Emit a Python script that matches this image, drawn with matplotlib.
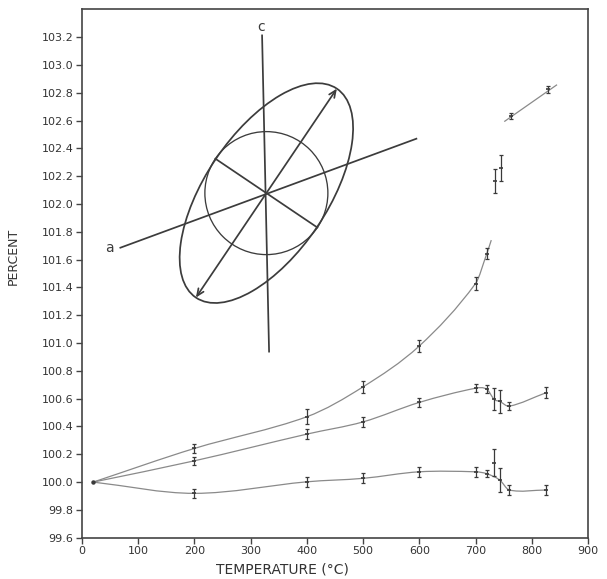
import numpy as np
import matplotlib
matplotlib.use("Agg")
import matplotlib.pyplot as plt
from matplotlib.path import Path
from matplotlib.patches import PathPatch, Ellipse, Circle, FancyArrowPatch
from matplotlib.transforms import Affine2D, ScaledTranslation

# ---------------------------------------------------------------- data
# Temperature (°C) and percent of original length; yerr = half bar height
upper_t = [20, 200, 400, 500, 600, 700, 720]
upper_v = [100.0, 100.242, 100.47, 100.685, 100.979, 101.428, 101.643]
upper_e = [0.0, 0.032, 0.055, 0.045, 0.040, 0.045, 0.040]
upper_end_t = [728]          # where the drawn curve stops
upper_end_v = [101.74]

middle_t = [20, 200, 400, 500, 600, 700, 720, 733, 743, 760, 825]
middle_v = [100.0, 100.153, 100.345, 100.433, 100.573, 100.675, 100.668,
            100.595, 100.58, 100.546, 100.642]
middle_e = [0.0, 0.030, 0.038, 0.036, 0.034, 0.030, 0.030, 0.078, 0.082,
            0.030, 0.040]

lower_t = [20, 200, 400, 500, 600, 700, 720, 733, 743, 760, 825]
lower_v = [100.0, 99.919, 100.002, 100.027, 100.074, 100.074, 100.06,
           100.14, 100.015, 99.943, 99.943]
lower_e = [0.0, 0.032, 0.036, 0.036, 0.036, 0.036, 0.024, 0.095, 0.085,
           0.036, 0.036]
lower_on_curve = [True, True, True, True, True, True, True, False, True,
                  True, True]

high_t = [735, 745]
high_v = [102.165, 102.26]
high_e = [0.085, 0.095]

rise_t = [763, 829]
rise_v = [102.632, 102.825]
rise_e = [0.020, 0.025]
rise_line_t = [752, 844]
rise_line_v = [102.595, 102.855]

x_ticks = [0, 100, 200, 300, 400, 500, 600, 700, 800, 900]
y_ticks = [99.6, 99.8, 100.0, 100.2, 100.4, 100.6, 100.8, 101.0, 101.2,
           101.4, 101.6, 101.8, 102.0, 102.2, 102.4, 102.6, 102.8, 103.0,
           103.2]

# ---------------------------------------------------------------- helpers
def smooth_path(xs, ys):
    """Cubic Bezier path through the knots, single-valued in x."""
    xs = np.asarray(xs, float)
    ys = np.asarray(ys, float)
    n = len(xs)
    m = np.empty(n)
    m[0] = (ys[1] - ys[0]) / (xs[1] - xs[0])
    m[-1] = (ys[-1] - ys[-2]) / (xs[-1] - xs[-2])
    m[1:-1] = (ys[2:] - ys[:-2]) / (xs[2:] - xs[:-2])
    verts = [(xs[0], ys[0])]
    codes = [Path.MOVETO]
    for i in range(n - 1):
        h = xs[i + 1] - xs[i]
        verts += [(xs[i] + h / 3, ys[i] + m[i] * h / 3),
                  (xs[i + 1] - h / 3, ys[i + 1] - m[i + 1] * h / 3),
                  (xs[i + 1], ys[i + 1])]
        codes += [Path.CURVE4] * 3
    return Path(verts, codes)


CURVE = "#8a8a8a"
INK = "#3a3a3a"

fig = plt.figure(figsize=(6.07, 5.79), dpi=100)
ax = fig.add_axes([0.135, 0.0713, 0.8337, 0.9127])
ax.set_xlim(0, 900)
ax.set_ylim(99.6, 103.4)


def draw_curve(xs, ys):
    ax.add_patch(PathPatch(smooth_path(xs, ys), fill=False, ec=CURVE,
                           lw=0.9, zorder=2))


def draw_bars(t, v, e):
    ax.errorbar(t, v, yerr=e, fmt="none", ecolor=INK, elinewidth=0.9,
                capsize=1.7, capthick=0.9, zorder=3)
    ax.plot(t, v, ls="none", marker="_", ms=3, mew=1.2, color=INK, zorder=3)


# smooth curves
draw_curve(upper_t + upper_end_t, upper_v + upper_end_v)
draw_curve(middle_t, middle_v)
draw_curve([t for t, k in zip(lower_t, lower_on_curve) if k],
           [v for v, k in zip(lower_v, lower_on_curve) if k])
ax.plot(rise_line_t, rise_line_v, color=CURVE, lw=0.9, zorder=2)

# error bars (the common starting point has none)
draw_bars(upper_t[1:], upper_v[1:], upper_e[1:])
draw_bars(middle_t[1:], middle_v[1:], middle_e[1:])
draw_bars(lower_t[1:], lower_v[1:], lower_e[1:])
draw_bars(high_t, high_v, high_e)
draw_bars(rise_t, rise_v, rise_e)
ax.plot(upper_t[:1], upper_v[:1], ls="none", marker="o", ms=2.2,
        color=INK, zorder=3)

# ---------------------------------------------------------------- inset sketch
# crystal axes a, c with the thermal-expansion ellipse, drawn in pixel units
# around a fixed anchor point inside the plot
anchor = (328, 102.078)
px = (Affine2D().scale(1 / fig.dpi) + fig.dpi_scale_trans
      + ScaledTranslation(anchor[0], anchor[1], ax.transData))
DK = "#3c3c3c"
LW = 1.25
ax.add_patch(Ellipse((0, 0), 2 * 126, 2 * 61, angle=56, transform=px,
                     fill=False, ec=DK, lw=LW))
ax.add_patch(Circle((0, 0), 61.5, transform=px, fill=False, ec=DK, lw=0.95))
r = 61.5
ang = np.deg2rad(146)
ax.plot([-r * np.cos(ang), r * np.cos(ang)], [-r * np.sin(ang), r * np.sin(ang)],
        transform=px, color=DK, lw=LW)
ax.plot([-146, 150], [-54.6, 54.4], transform=px, color=DK, lw=LW)
ax.plot([-4.3, 2.7], [157.7, -158.5], transform=px, color=DK, lw=LW)
a_maj = np.deg2rad(56)
tip = (126 * np.cos(a_maj), 126 * np.sin(a_maj))
ax.add_patch(FancyArrowPatch((-tip[0], -tip[1]), tip, transform=px,
                             arrowstyle="<->,head_length=0.5,head_width=0.22",
                             mutation_scale=10, shrinkA=0, shrinkB=0,
                             color=DK, lw=LW))
ax.text(-157, -55, "a", transform=px, ha="center", va="center",
        fontsize=10, color=DK)
ax.text(-5, 166, "c", transform=px, ha="center", va="center",
        fontsize=10, color=DK)

# ---------------------------------------------------------------- axes styling
ax.set_xticks(x_ticks)
ax.set_xticklabels([str(t) for t in x_ticks])
ax.set_yticks(y_ticks)
ax.set_yticklabels([f"{v:.1f}" for v in y_ticks])
ax.tick_params(direction="out", length=4, width=1.0, color="#444444",
               labelsize=8, labelcolor="#333333", pad=2)
for s in ax.spines.values():
    s.set_linewidth(1.2)
    s.set_color("#444444")

ax.set_xlabel("TEMPERATURE (°C)", fontsize=10, color="#333333")
ax.xaxis.set_label_coords(0.397, -0.047)
ax.set_ylabel("PERCENT", fontsize=9, color="#333333")
ax.yaxis.set_label_coords(-0.122, 0.533)

fig.savefig("out.png", dpi=100, facecolor="white")
